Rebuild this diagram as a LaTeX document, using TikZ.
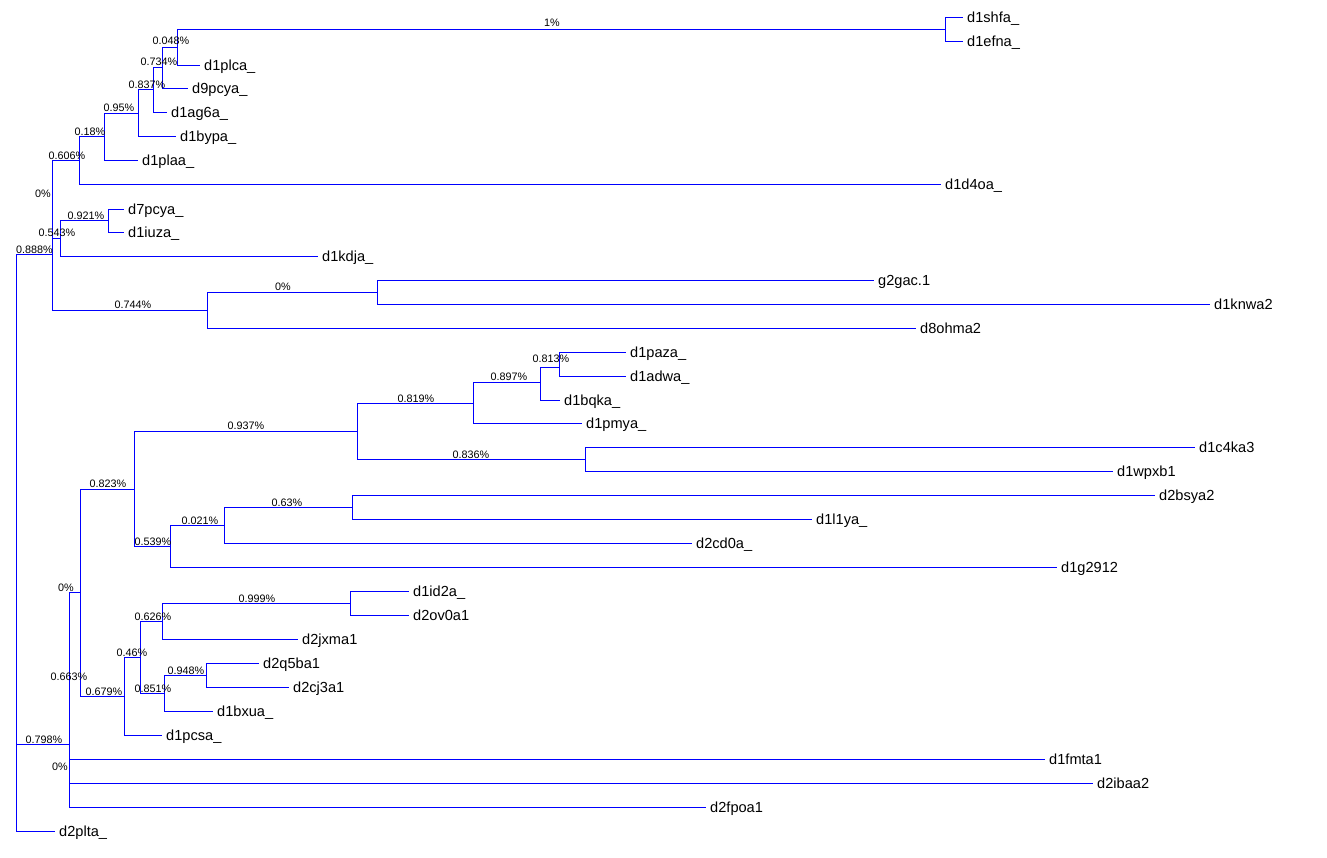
\documentclass[tikz,border=0pt]{standalone}
\usepackage{fontspec}
\setmainfont{Liberation Sans}
\begin{document}
\begin{tikzpicture}[x=1pt,y=-1pt,
  br/.style={draw={rgb,255:red,0;green,0;blue,255},line width=0.9pt},
  leaf/.style={anchor=base west,inner xsep=4pt,inner ysep=0pt,yshift=-5pt,font=\fontsize{14.6}{16}\selectfont},
  elab/.style={anchor=center,inner sep=0pt,font=\fontsize{10.8}{12}\selectfont}]
\useasboundingbox (0,0) rectangle (1327,857);
% internal nodes
\coordinate (root) at (16,254);
\coordinate (n52) at (52,254);
\coordinate (A6) at (79,160);
\coordinate (A5) at (104,136);
\coordinate (A4) at (138,113);
\coordinate (A3) at (153,89);
\coordinate (A2) at (162,67);
\coordinate (A1) at (177,47);
\coordinate (As) at (945,29);
\coordinate (B) at (60,238);
\coordinate (B1) at (108,220);
\coordinate (C) at (207,310);
\coordinate (D) at (377,292);
\coordinate (W) at (69,744);
\coordinate (P) at (80,592);
\coordinate (E) at (134,489);
\coordinate (F) at (357,431);
\coordinate (G) at (473,403);
\coordinate (H) at (540,382);
\coordinate (I) at (559,367);
\coordinate (J) at (585,459);
\coordinate (K) at (170,546);
\coordinate (L) at (224,525);
\coordinate (M) at (352,507);
\coordinate (Q) at (124,696);
\coordinate (R) at (140,657);
\coordinate (S) at (162,621);
\coordinate (T) at (350,603);
\coordinate (U) at (164,693);
\coordinate (V) at (206,675);
% leaves
\coordinate (l1) at (963,17);   \node[leaf] (t1) at (l1) {d1shfa\_};
\coordinate (l2) at (963,41);   \node[leaf] (t2) at (l2) {d1efna\_};
\coordinate (l3) at (200,65);   \node[leaf] (t3) at (l3) {d1plca\_};
\coordinate (l4) at (188,88);   \node[leaf] (t4) at (l4) {d9pcya\_};
\coordinate (l5) at (167,112);  \node[leaf] (t5) at (l5) {d1ag6a\_};
\coordinate (l6) at (176,136);  \node[leaf] (t6) at (l6) {d1bypa\_};
\coordinate (l7) at (138,160);  \node[leaf] (t7) at (l7) {d1plaa\_};
\coordinate (l8) at (941,184);  \node[leaf] (t8) at (l8) {d1d4oa\_};
\coordinate (l9) at (124,209);  \node[leaf] (t9) at (l9) {d7pcya\_};
\coordinate (l10) at (124,232); \node[leaf] (t10) at (l10) {d1iuza\_};
\coordinate (l11) at (318,256); \node[leaf] (t11) at (l11) {d1kdja\_};
\coordinate (l12) at (874,280); \node[leaf] (t12) at (l12) {g2gac.1};
\coordinate (l13) at (1210,304);\node[leaf] (t13) at (l13) {d1knwa2};
\coordinate (l14) at (916,328); \node[leaf] (t14) at (l14) {d8ohma2};
\coordinate (l15) at (626,352); \node[leaf] (t15) at (l15) {d1paza\_};
\coordinate (l16) at (626,376); \node[leaf] (t16) at (l16) {d1adwa\_};
\coordinate (l17) at (560,400); \node[leaf] (t17) at (l17) {d1bqka\_};
\coordinate (l18) at (582,423); \node[leaf] (t18) at (l18) {d1pmya\_};
\coordinate (l19) at (1195,447);\node[leaf] (t19) at (l19) {d1c4ka3};
\coordinate (l20) at (1113,471);\node[leaf] (t20) at (l20) {d1wpxb1};
\coordinate (l21) at (1155,495);\node[leaf] (t21) at (l21) {d2bsya2};
\coordinate (l22) at (812,519); \node[leaf] (t22) at (l22) {d1l1ya\_};
\coordinate (l23) at (692,543); \node[leaf] (t23) at (l23) {d2cd0a\_};
\coordinate (l24) at (1057,567);\node[leaf] (t24) at (l24) {d1g2912};
\coordinate (l25) at (409,591); \node[leaf] (t25) at (l25) {d1id2a\_};
\coordinate (l26) at (409,615); \node[leaf] (t26) at (l26) {d2ov0a1};
\coordinate (l27) at (298,639); \node[leaf] (t27) at (l27) {d2jxma1};
\coordinate (l28) at (259,663); \node[leaf] (t28) at (l28) {d2q5ba1};
\coordinate (l29) at (289,687); \node[leaf] (t29) at (l29) {d2cj3a1};
\coordinate (l30) at (213,711); \node[leaf] (t30) at (l30) {d1bxua\_};
\coordinate (l31) at (162,735); \node[leaf] (t31) at (l31) {d1pcsa\_};
\coordinate (l32) at (1045,759);\node[leaf] (t32) at (l32) {d1fmta1};
\coordinate (l33) at (1093,783);\node[leaf] (t33) at (l33) {d2ibaa2};
\coordinate (l34) at (706,807); \node[leaf] (t34) at (l34) {d2fpoa1};
\coordinate (l35) at (55,831);  \node[leaf] (t35) at (l35) {d2plta\_};
% branches
\draw[br] (root) |- (n52);
\draw[br] (root) |- (W);
\draw[br] (root) |- (l35);
\draw[br] (n52) |- (A6);
\draw[br] (n52) |- (B);
\draw[br] (n52) |- (C);
\draw[br] (A6) |- (A5);
\draw[br] (A6) |- (l8);
\draw[br] (A5) |- (A4);
\draw[br] (A5) |- (l7);
\draw[br] (A4) |- (A3);
\draw[br] (A4) |- (l6);
\draw[br] (A3) |- (A2);
\draw[br] (A3) |- (l5);
\draw[br] (A2) |- (A1);
\draw[br] (A2) |- (l4);
\draw[br] (A1) |- (As);
\draw[br] (A1) |- (l3);
\draw[br] (As) |- (l1);
\draw[br] (As) |- (l2);
\draw[br] (B) |- (B1);
\draw[br] (B) |- (l11);
\draw[br] (B1) |- (l9);
\draw[br] (B1) |- (l10);
\draw[br] (C) |- (D);
\draw[br] (C) |- (l14);
\draw[br] (D) |- (l12);
\draw[br] (D) |- (l13);
\draw[br] (W) |- (P);
\draw[br] (W) |- (l32);
\draw[br] (W) |- (l33);
\draw[br] (W) |- (l34);
\draw[br] (P) |- (E);
\draw[br] (P) |- (Q);
\draw[br] (E) |- (F);
\draw[br] (E) |- (K);
\draw[br] (F) |- (G);
\draw[br] (F) |- (J);
\draw[br] (G) |- (H);
\draw[br] (G) |- (l18);
\draw[br] (H) |- (I);
\draw[br] (H) |- (l17);
\draw[br] (I) |- (l15);
\draw[br] (I) |- (l16);
\draw[br] (J) |- (l19);
\draw[br] (J) |- (l20);
\draw[br] (K) |- (L);
\draw[br] (K) |- (l24);
\draw[br] (L) |- (M);
\draw[br] (L) |- (l23);
\draw[br] (M) |- (l21);
\draw[br] (M) |- (l22);
\draw[br] (Q) |- (R);
\draw[br] (Q) |- (l31);
\draw[br] (R) |- (S);
\draw[br] (R) |- (U);
\draw[br] (S) |- (T);
\draw[br] (S) |- (l27);
\draw[br] (T) |- (l25);
\draw[br] (T) |- (l26);
\draw[br] (U) |- (V);
\draw[br] (U) |- (l30);
\draw[br] (V) |- (l28);
\draw[br] (V) |- (l29);
% branch labels
\node[elab] (e1) at (552,23) {1\%};
\node[elab] (e2) at (171,41) {0.048\%};
\node[elab] (e3) at (159,62) {0.734\%};
\node[elab] (e4) at (147,85) {0.837\%};
\node[elab] (e5) at (119,108) {0.95\%};
\node[elab] (e6) at (90,132) {0.18\%};
\node[elab] (e7) at (67,156) {0.606\%};
\node[elab] (e8) at (43,194) {0\%};
\node[elab] (e9) at (86,216) {0.921\%};
\node[elab] (e10) at (57,233) {0.543\%};
\node[elab] (e11) at (34.5,250) {0.888\%};
\node[elab] (e12) at (283,287) {0\%};
\node[elab] (e13) at (133,305) {0.744\%};
\node[elab] (e14) at (551,359) {0.813\%};
\node[elab] (e15) at (509,377) {0.897\%};
\node[elab] (e16) at (416,399) {0.819\%};
\node[elab] (e17) at (246,426) {0.937\%};
\node[elab] (e18) at (471,455) {0.836\%};
\node[elab] (e19) at (108,484) {0.823\%};
\node[elab] (e20) at (287,503) {0.63\%};
\node[elab] (e21) at (200,521) {0.021\%};
\node[elab] (e22) at (153,542) {0.539\%};
\node[elab] (e23) at (66,588) {0\%};
\node[elab] (e24) at (257,599) {0.999\%};
\node[elab] (e25) at (153,617) {0.626\%};
\node[elab] (e26) at (132,653) {0.46\%};
\node[elab] (e27) at (186,671) {0.948\%};
\node[elab] (e28) at (69,677) {0.663\%};
\node[elab] (e29) at (153,689) {0.851\%};
\node[elab] (e30) at (104,692) {0.679\%};
\node[elab] (e31) at (44,740) {0.798\%};
\node[elab] (e32) at (60,767) {0\%};
\end{tikzpicture}
\end{document}
